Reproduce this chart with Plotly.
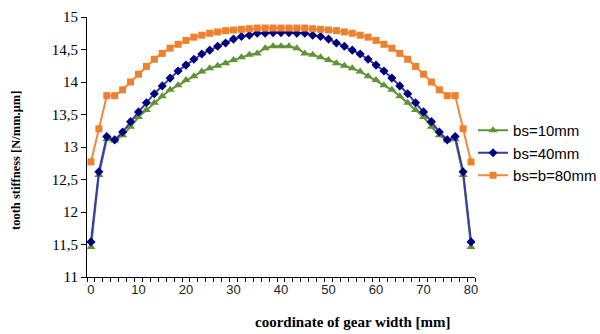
import plotly.graph_objects as go

# 49 slices across the 80 mm gear width
n_points = 49
gear_width = 80.0
x_vals = [gear_width * i / (n_points - 1) for i in range(n_points)]

# left half (0..40 mm), mirrored for the right half
bs10_half = [11.46, 12.57, 13.12, 13.10, 13.18, 13.31, 13.46, 13.57, 13.68, 13.78,
             13.88, 13.95, 14.03, 14.09, 14.16, 14.21, 14.25, 14.29, 14.34, 14.38,
             14.42, 14.44, 14.52, 14.55, 14.55]
bs40_half = [11.54, 12.62, 13.16, 13.11, 13.23, 13.39, 13.54, 13.68, 13.82, 13.94,
             14.06, 14.17, 14.26, 14.35, 14.43, 14.49, 14.55, 14.60, 14.66, 14.70,
             14.72, 14.75, 14.75, 14.76, 14.76]
bs80_half = [12.77, 13.28, 13.79, 13.79, 13.88, 14.00, 14.12, 14.24, 14.35, 14.44,
             14.52, 14.58, 14.64, 14.69, 14.72, 14.75, 14.77, 14.79, 14.80, 14.81,
             14.82, 14.83, 14.83, 14.83, 14.83]

bs10 = bs10_half + bs10_half[-2::-1]
bs40 = bs40_half + bs40_half[-2::-1]
bs80 = bs80_half + bs80_half[-2::-1]

series_names = ["bs=10mm", "bs=40mm", "bs=b=80mm"]
x_tick_vals = [0, 10, 20, 30, 40, 50, 60, 70, 80]
x_tick_text = ["0", "10", "20", "30", "40", "50", "60", "70", "80"]
y_tick_vals = [11, 11.5, 12, 12.5, 13, 13.5, 14, 14.5, 15]
y_tick_text = ["11", "11,5", "12", "12,5", "13", "13,5", "14", "14,5", "15"]

half_step = gear_width / (n_points - 1) / 2
SERIF = "Liberation Serif, Times New Roman, serif"
SANS = "Liberation Sans, Arial, sans-serif"

fig = go.Figure()
fig.add_trace(go.Scatter(x=x_vals, y=bs10, name=series_names[0], mode="lines+markers",
                         line=dict(color="#5F9433", width=2),
                         marker=dict(symbol="triangle-up", size=8, color="#5F9433")))
fig.add_trace(go.Scatter(x=x_vals, y=bs40, name=series_names[1], mode="lines+markers",
                         line=dict(color="#3838B0", width=2),
                         marker=dict(symbol="diamond", size=7, color="#000080")))
fig.add_trace(go.Scatter(x=x_vals, y=bs80, name=series_names[2], mode="lines+markers",
                         line=dict(color="#F5873A", width=2),
                         marker=dict(symbol="square", size=7, color="#F0802E")))

fig.update_layout(
    width=600, height=334,
    margin=dict(l=87, r=125, t=17, b=57, pad=0, autoexpand=False),
    paper_bgcolor="white", plot_bgcolor="white",
    showlegend=True,
    legend=dict(x=0.995, y=0.627, xanchor="left", yanchor="top",
                font=dict(family=SANS, size=15, color="black"),
                itemwidth=30, bgcolor="rgba(0,0,0,0)"),
    annotations=[
        dict(text="<b>coordinate of gear width [mm]</b>", xref="paper", yref="paper",
             x=0.686, y=-0.173, xanchor="center", yanchor="middle", showarrow=False,
             font=dict(family=SERIF, size=15, color="black")),
        dict(text="<b>tooth stiffness [N/mm.μm]</b>", xref="paper", yref="paper",
             x=-0.183, y=0.45, xanchor="center", yanchor="middle", showarrow=False,
             textangle=-90,
             font=dict(family=SERIF, size=12.5, color="black")),
    ],
)

fig.update_xaxes(
    range=[-half_step, gear_width + half_step], automargin=False,
    tickmode="array", tickvals=x_tick_vals, ticktext=x_tick_text,
    ticks="", showgrid=False, zeroline=False,
    showline=True, linecolor="black", linewidth=1,
    tickfont=dict(family=SANS, size=13, color="#222222"),
    minor=dict(tickmode="linear", tick0=-half_step, dtick=2 * half_step,
               ticks="outside", ticklen=4, tickcolor="black", showgrid=False),
)
fig.update_yaxes(
    range=[11, 15], automargin=False,
    tickmode="array", tickvals=y_tick_vals, ticktext=y_tick_text,
    ticks="outside", ticklen=5, tickcolor="black",
    showgrid=False, zeroline=False,
    showline=True, linecolor="black", linewidth=1,
    tickfont=dict(family=SERIF, size=15, color="black"),
)

fig.write_html("out.html", config={"displayModeBar": False},
               post_script="document.body.style.margin='0px';")
